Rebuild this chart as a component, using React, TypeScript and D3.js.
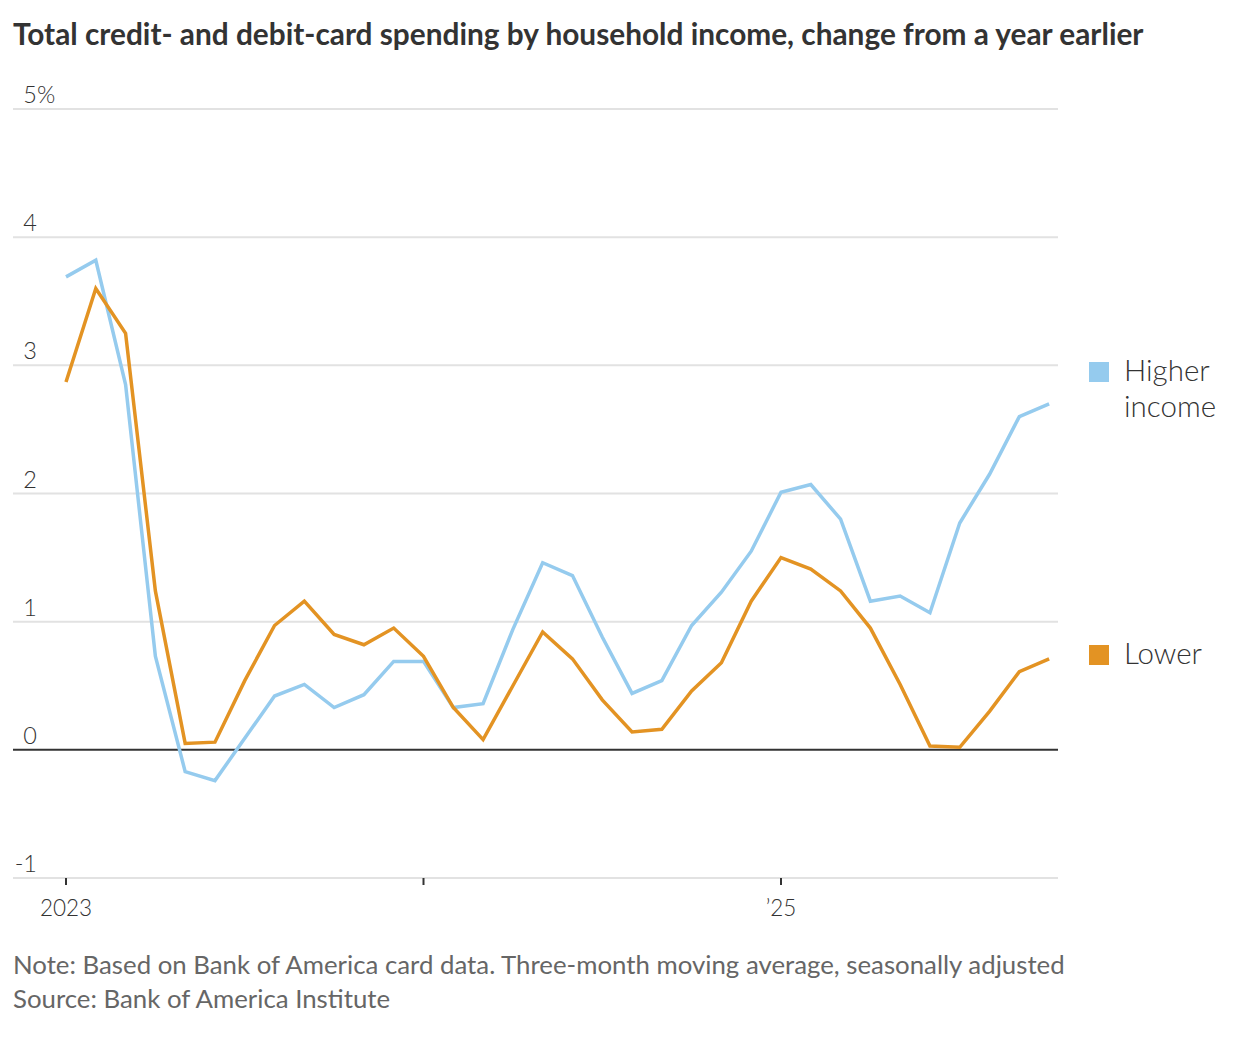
import React from "react";
import * as d3 from "d3";

const months: string[] = [
  "2023-01","2023-02","2023-03","2023-04","2023-05","2023-06","2023-07","2023-08","2023-09","2023-10","2023-11","2023-12",
  "2024-01","2024-02","2024-03","2024-04","2024-05","2024-06","2024-07","2024-08","2024-09","2024-10","2024-11","2024-12",
  "2025-01","2025-02","2025-03","2025-04","2025-05","2025-06","2025-07","2025-08","2025-09","2025-10",
];

const higherIncome: number[] = [
  3.69, 3.82, 2.85, 0.73, -0.17, -0.24, 0.09, 0.42, 0.51, 0.33, 0.43, 0.69,
  0.69, 0.33, 0.36, 0.94, 1.46, 1.36, 0.88, 0.44, 0.54, 0.97, 1.23, 1.55,
  2.01, 2.07, 1.80, 1.16, 1.20, 1.07, 1.77, 2.15, 2.60, 2.70,
];

const lowerIncome: number[] = [
  2.87, 3.60, 3.25, 1.24, 0.05, 0.06, 0.54, 0.97, 1.16, 0.90, 0.82, 0.95,
  0.73, 0.33, 0.08, 0.50, 0.92, 0.71, 0.39, 0.14, 0.16, 0.46, 0.68, 1.16,
  1.50, 1.41, 1.24, 0.95, 0.51, 0.03, 0.02, 0.30, 0.61, 0.71,
];

const yTicks: number[] = [-1, 0, 1, 2, 3, 4, 5];
const xTickIdx: number[] = [0, 12, 24];
const xTickLabels: string[] = ["2023", "", "\u201925"];

const title = "Total credit- and debit-card spending by household income, change from a year earlier";
const note = "Note: Based on Bank of America card data. Three-month moving average, seasonally adjusted";
const source = "Source: Bank of America Institute";

const BLUE = "#95cbee";
const ORANGE = "#e39323";
const FONT = "Lato, 'Open Sans', sans-serif";

export default function App() {
  const W = 1256, H = 1048;
  const x = d3.scaleLinear().domain([0, 24]).range([66, 781]);
  const y = d3.scaleLinear().domain([-1, 5]).range([878, 109]);
  const gridX0 = 13, gridX1 = 1058;

  const line = d3.line<number>().x((_, i) => x(i)).y((d) => y(d));

  const series = [
    { name: ["Higher", "income"], values: higherIncome, color: BLUE, legendY: 372 },
    { name: ["Lower"], values: lowerIncome, color: ORANGE, legendY: 655 },
  ];

  return (
    <svg width={W} height={H} style={{ position: "absolute", left: 0, top: 0, background: "#fff" }}>
      <text x={13} y={45} fontFamily={FONT} fontWeight={700} fontSize={29.8} fill="#333">{title}</text>

      {yTicks.map((t) => (
        <g key={t}>
          <line x1={gridX0} x2={gridX1} y1={y(t)} y2={y(t)}
            stroke={t === 0 ? "#333" : "#e2e2e2"} strokeWidth={2} />
          <text x={37} y={y(t) - 6} textAnchor="end" fontFamily={FONT} fontWeight={300} fontSize={23.5} fill="#333">
            {t}
          </text>
          {t === 5 && (
            <text x={37} y={y(t) - 6} textAnchor="start" fontFamily={FONT} fontWeight={300} fontSize={23.5} fill="#333">%</text>
          )}
        </g>
      ))}

      {xTickIdx.map((d, i) => (
        <g key={d}>
          <line x1={x(d)} x2={x(d)} y1={y(-1)} y2={y(-1) + 7} stroke="#333" strokeWidth={2} />
          <text x={x(d)} y={916} textAnchor="middle" fontFamily={FONT} fontWeight={300} fontSize={22.5} fill="#333">
            {xTickLabels[i]}
          </text>
        </g>
      ))}

      {series.map((s) => (
        <path key={s.name[0]} d={line(s.values) || ""} fill="none" stroke={s.color} strokeWidth={3.5}
          strokeLinejoin="miter" />
      ))}

      {series.map((s) => (
        <g key={"lg" + s.name[0]}>
          <rect x={1089} y={s.legendY - 10} width={20} height={20} fill={s.color} />
          {s.name.map((n, j) => (
            <text key={n} x={1124} y={s.legendY + 9 + j * 36} fontFamily={FONT} fontWeight={300} fontSize={29.5} fill="#333">{n}</text>
          ))}
        </g>
      ))}

      <text x={13} y={974} fontFamily={FONT} fontWeight={400} fontSize={25.8} fill="#666">{note}</text>
      <text x={13} y={1008} fontFamily={FONT} fontWeight={400} fontSize={25.8} fill="#666">{source}</text>
    </svg>
  );
}
